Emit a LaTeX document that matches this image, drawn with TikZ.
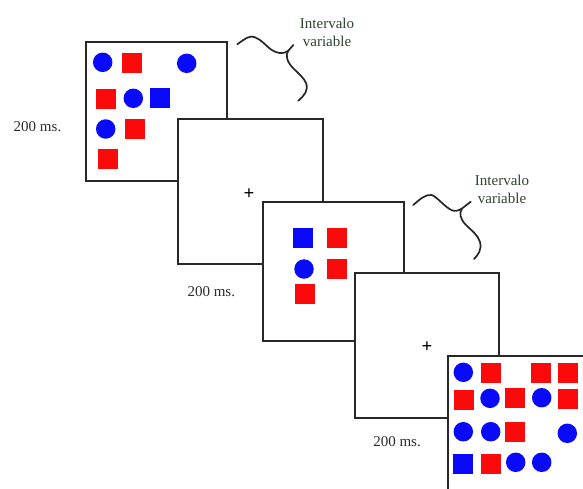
\documentclass[tikz,border=0pt]{standalone}
\usepackage{fontspec}
\setmainfont{Liberation Serif}
\definecolor{frame}{RGB}{40,40,40}
\definecolor{txt}{RGB}{45,45,45}
\definecolor{gtxt}{RGB}{50,66,50}
\definecolor{sred}{RGB}{250,10,10}
\definecolor{sblue}{RGB}{10,10,250}
\tikzset{
  panel/.style={draw=frame, line width=1.8pt, fill=white, anchor=north west, inner sep=0pt},
  bcirc/.style={circle, fill=sblue, minimum size=19.5pt, inner sep=0pt},
  rsq/.style={rectangle, fill=sred, minimum size=20pt, inner sep=0pt},
  bsq/.style={rectangle, fill=sblue, minimum size=20pt, inner sep=0pt},
  lbl/.style={text=txt, font=\fontsize{15}{18}\selectfont, inner sep=0pt},
  ivl/.style={text=gtxt, font=\fontsize{15}{18}\selectfont, align=center, inner sep=0pt},
  plus/.style={font=\fontsize{19}{19}\selectfont\bfseries, inner sep=0pt},
  squig/.style={draw=black!85, line width=1.7pt, line cap=round, line join=round}
}
\begin{document}
\begin{tikzpicture}[x=1pt, y=-1pt]
\clip (0,0) rectangle (583,488);
\fill[white] (0,0) rectangle (583,488);

% panel 1
\node[panel, minimum width=141pt, minimum height=139pt] (p1) at (85,41) {};
\node[bcirc] (a1) at (102.7,62.3) {};
\node[rsq] (a2) at (131.7,63.3) {};
\node[bcirc] (a3) at (186.7,63.3) {};
\node[rsq] (a4) at (105.7,98.7) {};
\node[bcirc] (a5) at (133.3,98.3) {};
\node[bsq] (a6) at (159.7,98.3) {};
\node[bcirc] (a7) at (105.7,129) {};
\node[rsq] (a8) at (134.7,128.7) {};
\node[rsq] (a9) at (107.7,158.7) {};

% panel 2
\node[panel, minimum width=145pt, minimum height=145pt] (p2) at (177,118) {};
\node[plus] (x2) at (249,194) {+};

% panel 3
\node[panel, minimum width=141pt, minimum height=139pt] (p3) at (262,201) {};
\node[bsq] (c1) at (303.3,238) {};
\node[rsq] (c2) at (336.7,238) {};
\node[bcirc] (c3) at (304,269) {};
\node[rsq] (c4) at (336.7,269) {};
\node[rsq] (c5) at (304.7,293.7) {};

% panel 4
\node[panel, minimum width=144pt, minimum height=145pt] (p4) at (354,272) {};
\node[plus] (x4) at (427,347) {+};

% panel 5
\node[panel, minimum width=150pt, minimum height=150pt] (p5) at (447,355) {};
\node[bcirc] (e1) at (463.3,372.3) {};
\node[rsq] (e2) at (491,373) {};
\node[rsq] (e3) at (541.3,373) {};
\node[rsq] (e4) at (567.7,373) {};
\node[rsq] (e5) at (463.8,400.3) {};
\node[bcirc] (e6) at (490,398.3) {};
\node[rsq] (e7) at (515.3,398.3) {};
\node[bcirc] (e8) at (541.7,397.7) {};
\node[rsq] (e9) at (568,399.3) {};
\node[bcirc] (e10) at (463.3,431.7) {};
\node[bcirc] (e11) at (490.7,431.7) {};
\node[rsq] (e12) at (515.3,431.7) {};
\node[bcirc] (e13) at (567.3,433.3) {};
\node[bsq] (e14) at (463.3,463.7) {};
\node[rsq] (e15) at (491,463.7) {};
\node[bcirc] (e16) at (515.7,462.3) {};
\node[bcirc] (e17) at (541.7,462.3) {};

% labels
\node[lbl] (t1) at (37.5,127) {200 ms.};
\node[lbl] (t2) at (211.3,292) {200 ms.};
\node[lbl] (t3) at (397,442) {200 ms.};
\node[ivl] (i1) at (327,32.5) {Intervalo\\variable};
\node[ivl] (i2) at (502,189.7) {Intervalo\\variable};

% squiggles
\coordinate (j1) at (288.3,50.7);
\draw[squig] (237.3,44.3) .. controls (246,38) and (250,35) .. (255,37.3)
  .. controls (262,40) and (266,46) .. (271,49.5)
  .. controls (276,53) and (283,55) .. (j1) -- (293.3,45);
\draw[squig] (j1) .. controls (285,55) and (287,62) .. (293.3,68.3)
  .. controls (299,74) and (304,78) .. (306,83)
  .. controls (309,90) and (304,96) .. (298.3,100.7);
\coordinate (j2) at (462,208.5);
\draw[squig] (413.3,205) .. controls (420,199) and (426,194) .. (431.7,195)
  .. controls (437,197) and (443,205) .. (450,209.3)
  .. controls (454,212) and (458,211) .. (j2) -- (470.7,201.7);
\draw[squig] (j2) .. controls (459,213) and (460,219) .. (466,225)
  .. controls (472,231) and (478,235) .. (480,242)
  .. controls (482,250) and (478,255) .. (474,259);
\end{tikzpicture}
\end{document}
